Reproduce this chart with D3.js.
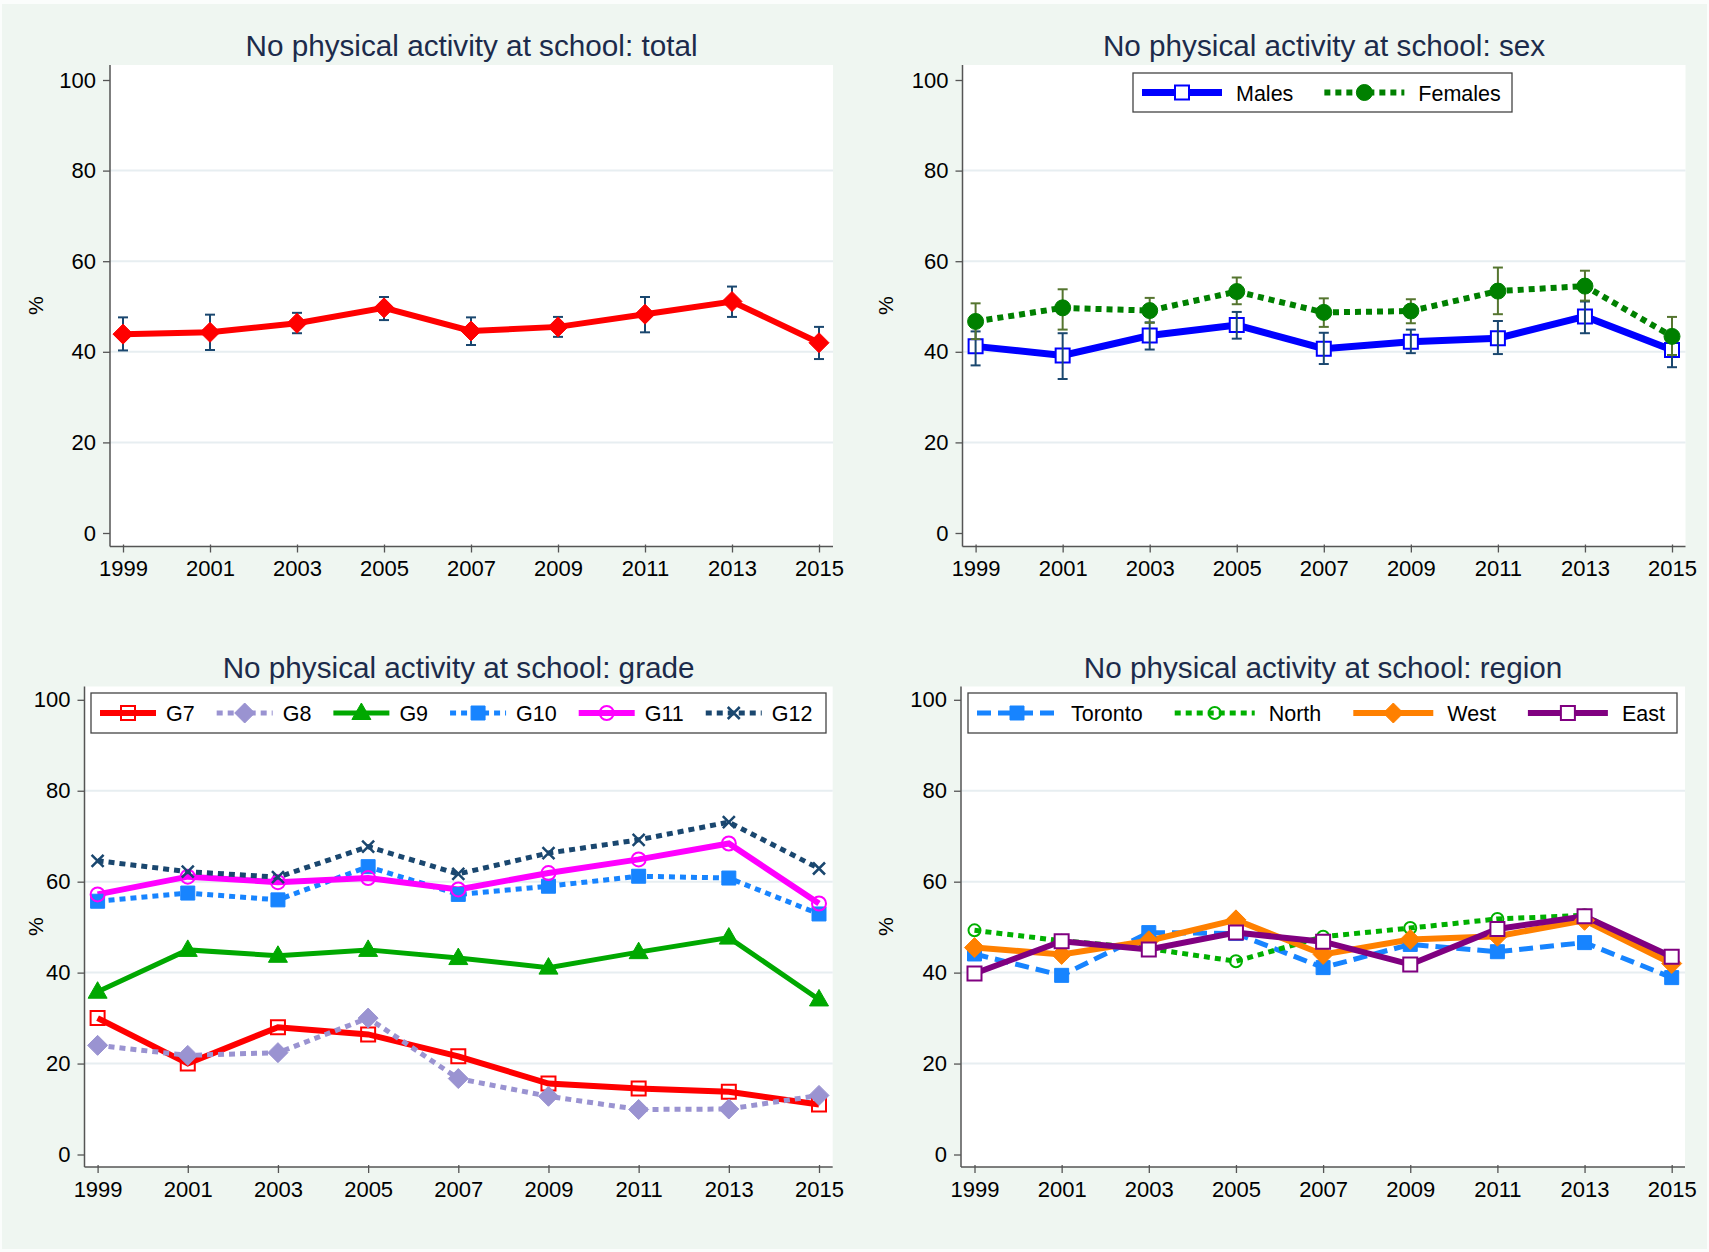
<!DOCTYPE html>
<html>
<head>
<meta charset="utf-8">
<script src="https://cdn.jsdelivr.net/npm/d3@7"></script>
<style>
  body { margin: 0; background: #fff; }
  svg { display: block; }
  text { font-family: "Liberation Sans", Arial, sans-serif; }
</style>
</head>
<body>
<div id="chart"></div>
<script>
// data
var years = [1999, 2001, 2003, 2005, 2007, 2009, 2011, 2013, 2015];
var yTicks = [0, 20, 40, 60, 80, 100];

var totalPct = [43.9, 44.3, 46.3, 49.7, 44.6, 45.5, 48.3, 51.1, 42.0];
var totalLo  = [40.3, 40.4, 44.1, 47.0, 41.5, 43.3, 44.3, 47.7, 38.4];
var totalHi  = [47.6, 48.2, 48.6, 52.1, 47.6, 47.7, 52.1, 54.4, 45.5];

var males     = [41.2, 39.2, 43.6, 45.9, 40.7, 42.2, 43.0, 47.8, 40.4];
var malesLo   = [37.0, 34.0, 40.5, 42.9, 37.3, 39.7, 39.5, 44.1, 36.6];
var malesHi   = [44.5, 44.1, 46.5, 48.8, 44.2, 44.9, 46.8, 51.1, 43.6];
var females   = [46.7, 49.7, 49.1, 53.3, 48.7, 49.0, 53.4, 54.5, 43.4];
var femalesLo = [42.8, 44.9, 46.4, 50.5, 45.5, 46.3, 48.3, 51.3, 39.3];
var femalesHi = [50.7, 53.8, 51.9, 56.4, 51.8, 51.6, 58.6, 57.9, 47.7];

var g7  = [30.0, 20.0, 28.0, 26.4, 21.6, 15.6, 14.5, 13.8, 11.0];
var g8  = [24.0, 21.8, 22.4, 30.0, 16.7, 12.8, 9.9, 10.0, 13.0];
var g9  = [35.8, 45.0, 43.7, 45.0, 43.2, 41.1, 44.5, 47.7, 34.1];
var g10 = [55.7, 57.5, 56.0, 63.3, 57.2, 59.0, 61.2, 60.8, 52.9];
var g11 = [57.2, 61.1, 59.9, 60.8, 58.3, 61.9, 64.9, 68.4, 55.2];
var g12 = [64.6, 62.2, 61.0, 67.7, 61.7, 66.3, 69.2, 73.1, 62.9];

var toronto = [44.1, 39.4, 48.8, 48.6, 41.1, 46.2, 44.6, 46.6, 38.9];
var north   = [49.3, 47.0, 45.3, 42.5, 47.9, 49.8, 51.8, 52.6, 42.5];
var west    = [45.5, 44.0, 47.0, 51.6, 44.0, 47.3, 48.0, 51.5, 42.0];
var east    = [39.8, 46.9, 45.1, 48.8, 46.8, 41.8, 49.6, 52.4, 43.5];

var DOT = "6,5";
var DASH = "14,7";

var panels = [
    {
        title: "No physical activity at school: total",
        box: [110, 65, 833, 546.5], xr: [123, 819], yr: [533, 80], ylab: 36,
        series: [
            { name: "total", v: totalPct, lo: totalLo, hi: totalHi, color: "#ff0000", w: 6, marker: "diamond", ms: 10, fill: "#ff0000", bar: "#1a476f" }
        ]
    },
    {
        title: "No physical activity at school: sex",
        box: [962.5, 65, 1685.5, 546.5], xr: [975.6, 1672], yr: [533, 80], ylab: 886,
        legend: { x: 1133, y: 73, w: 379, h: 39, sw: 80, g1: 14, g2: 31, pad: 9 },
        series: [
            { name: "Males", v: males, lo: malesLo, hi: malesHi, color: "#0000ff", w: 7, marker: "square", ms: 7, fill: "#fff", bar: "#1a476f", barTop: true },
            { name: "Females", v: females, lo: femalesLo, hi: femalesHi, color: "#008000", w: 6, dash: DOT, marker: "circle", ms: 8, fill: "#008000", bar: "#55752f" }
        ]
    },
    {
        title: "No physical activity at school: grade",
        box: [84.5, 686.5, 832.7, 1167], xr: [97.6, 819], yr: [1154.5, 699.8], ylab: 36,
        legend: { x: 91, y: 693, w: 735, h: 40, sw: 56, g1: 10, g2: 22, pad: 9 },
        series: [
            { name: "G7", v: g7, color: "#ff0000", w: 6, marker: "square", ms: 7, fill: "none" },
            { name: "G8", v: g8, color: "#9a93d1", w: 5, dash: DOT, marker: "diamond", ms: 10, fill: "#9a93d1" },
            { name: "G9", v: g9, color: "#00a800", w: 5, marker: "triangle", ms: 10, fill: "#00a800" },
            { name: "G10", v: g10, color: "#1784ff", w: 5, dash: DOT, marker: "square", ms: 7, fill: "#1784ff" },
            { name: "G11", v: g11, color: "#ff00ff", w: 6, marker: "circle", ms: 7, fill: "none" },
            { name: "G12", v: g12, color: "#1a476f", w: 5, dash: DOT, marker: "x", ms: 6, fill: "none" }
        ]
    },
    {
        title: "No physical activity at school: region",
        box: [961, 686.5, 1685, 1167], xr: [974.5, 1671.7], yr: [1154.5, 699.8], ylab: 886,
        legend: { x: 968, y: 693, w: 709, h: 40, sw: 80, g1: 14, g2: 32, pad: 9 },
        series: [
            { name: "Toronto", v: toronto, color: "#1784ff", w: 5, dash: DASH, marker: "square", ms: 7, fill: "#1784ff" },
            { name: "North", v: north, color: "#00b000", w: 5, dash: DOT, marker: "circle", ms: 6, fill: "none" },
            { name: "West", v: west, color: "#ff8000", w: 6, marker: "diamond", ms: 10, fill: "#ff8000" },
            { name: "East", v: east, color: "#800080", w: 6, marker: "square", ms: 7, fill: "#fff" }
        ]
    }
];

var svg = d3.select("#chart").append("svg")
    .attr("width", 1709)
    .attr("height", 1252);

svg.append("rect").attr("width", 1709).attr("height", 1252).attr("fill", "#fbfdfc");
svg.append("rect").attr("x", 2).attr("y", 4).attr("width", 1705).attr("height", 1245).attr("fill", "#eff6f1");

function markerPath(type, s) {
    var p = d3.path();
    if (type == "diamond") {
        p.moveTo(0, -s); p.lineTo(s, 0); p.lineTo(0, s); p.lineTo(-s, 0); p.closePath();
    } else if (type == "square") {
        p.rect(-s, -s, 2 * s, 2 * s);
    } else if (type == "circle") {
        p.arc(0, 0, s, 0, 2 * Math.PI);
    } else if (type == "triangle") {
        p.moveTo(0, -s); p.lineTo(s * 0.95, s * 0.65); p.lineTo(-s * 0.95, s * 0.65); p.closePath();
    } else if (type == "x") {
        p.moveTo(-s, -s); p.lineTo(s, s); p.moveTo(s, -s); p.lineTo(-s, s);
    }
    return p.toString();
}

function drawMarkers(g, s, pts) {
    var hollow = s.fill == "none" || s.fill == "#fff";
    g.selectAll(null).data(pts).enter().append("path")
        .attr("transform", function (d) { return "translate(" + d[0] + "," + d[1] + ")"; })
        .attr("d", markerPath(s.marker, s.ms))
        .attr("fill", s.marker == "x" ? "none" : s.fill)
        .attr("stroke", s.color)
        .attr("stroke-width", s.marker == "x" ? 2.5 : (hollow ? 2 : 1));
}

function drawBars(g, s, x, y) {
    var bars = g.append("g").attr("stroke", s.bar).attr("stroke-width", 2).attr("fill", "none");
    years.forEach(function (yr, i) {
        var cx = x(yr), a = y(s.lo[i]), b = y(s.hi[i]);
        bars.append("line").attr("x1", cx).attr("x2", cx).attr("y1", a).attr("y2", b);
        bars.append("line").attr("x1", cx - 5).attr("x2", cx + 5).attr("y1", a).attr("y2", a);
        bars.append("line").attr("x1", cx - 5).attr("x2", cx + 5).attr("y1", b).attr("y2", b);
    });
}

panels.forEach(function (p) {
    var bx0 = p.box[0], by0 = p.box[1], bx1 = p.box[2], by1 = p.box[3];
    var x = d3.scaleLinear().domain([1999, 2015]).range(p.xr);
    var y = d3.scaleLinear().domain([0, 100]).range(p.yr);
    var g = svg.append("g");

    g.append("rect").attr("x", bx0).attr("y", by0).attr("width", bx1 - bx0).attr("height", by1 - by0).attr("fill", "#fff");

    // grid
    g.selectAll(null).data(yTicks.slice(1, -1)).enter().append("line")
        .attr("x1", bx0).attr("x2", bx1)
        .attr("y1", function (d) { return y(d); }).attr("y2", function (d) { return y(d); })
        .attr("stroke", "#e7eef1").attr("stroke-width", 2);

    // axes
    var yAxis = d3.axisLeft(y).tickValues(yTicks).tickSize(7).tickPadding(7);
    var ya = g.append("g").attr("transform", "translate(" + bx0 + ",0)").call(yAxis);
    ya.select(".domain").attr("d", "M0," + by0 + "V" + by1).attr("stroke", "#555").attr("stroke-width", 1.5);
    ya.selectAll(".tick line").attr("stroke", "#555").attr("stroke-width", 1.3);
    ya.selectAll(".tick text").attr("font-size", 22).attr("fill", "#000")
        .attr("font-family", "Liberation Sans, Arial, sans-serif");

    var xAxis = d3.axisBottom(x).tickValues(years).tickFormat(d3.format("d")).tickSize(6).tickPadding(8);
    var xa = g.append("g").attr("transform", "translate(0," + by1 + ")").call(xAxis);
    xa.select(".domain").attr("d", "M" + bx0 + ",0H" + bx1).attr("stroke", "#555").attr("stroke-width", 1.5);
    xa.selectAll(".tick line").attr("stroke", "#555").attr("stroke-width", 1.3).attr("y1", -2);
    xa.selectAll(".tick text").attr("font-size", 22).attr("fill", "#000")
        .attr("font-family", "Liberation Sans, Arial, sans-serif");

    // title and y label
    g.append("text").attr("x", (bx0 + bx1) / 2).attr("y", by0 - 9)
        .attr("text-anchor", "middle").attr("font-size", 29.7).attr("fill", "#1c2b4b")
        .text(p.title);
    g.append("text").attr("transform", "translate(" + (p.ylab + 7) + "," + ((by0 + by1) / 2) + ") rotate(-90)")
        .attr("text-anchor", "middle").attr("font-size", 21).attr("fill", "#000").text("%");

    var line = d3.line().x(function (d, i) { return x(years[i]); }).y(function (d) { return y(d); });

    p.series.forEach(function (s) {
        g.append("path").datum(s.v).attr("d", line)
            .attr("fill", "none").attr("stroke", s.color).attr("stroke-width", s.w)
            .attr("stroke-dasharray", s.dash || null).attr("stroke-linejoin", "miter");
    });

    p.series.forEach(function (s) {
        var pts = s.v.map(function (d, i) { return [x(years[i]), y(d)]; });
        if (s.lo && !s.barTop) drawBars(g, s, x, y);
        drawMarkers(g, s, pts);
        if (s.lo && s.barTop) drawBars(g, s, x, y);
    });

    // legend
    if (p.legend) {
        var L = p.legend;
        var lg = g.append("g");
        lg.append("rect").attr("x", L.x).attr("y", L.y).attr("width", L.w).attr("height", L.h)
            .attr("fill", "#fff").attr("stroke", "#444").attr("stroke-width", 1.3);
        var cy = L.y + L.h / 2;
        var cx = L.x + L.pad;
        p.series.forEach(function (s) {
            lg.append("line").attr("x1", cx).attr("x2", cx + L.sw).attr("y1", cy).attr("y2", cy)
                .attr("stroke", s.color).attr("stroke-width", s.w).attr("stroke-dasharray", s.dash || null);
            drawMarkers(lg, s, [[cx + L.sw / 2, cy]]);
            var t = lg.append("text").attr("x", cx + L.sw + L.g1).attr("y", cy + 8)
                .attr("font-size", 21.5).attr("fill", "#000").text(s.name);
            cx += L.sw + L.g1 + t.node().getComputedTextLength() + L.g2;
        });
    }
});
</script>
</body>
</html>
